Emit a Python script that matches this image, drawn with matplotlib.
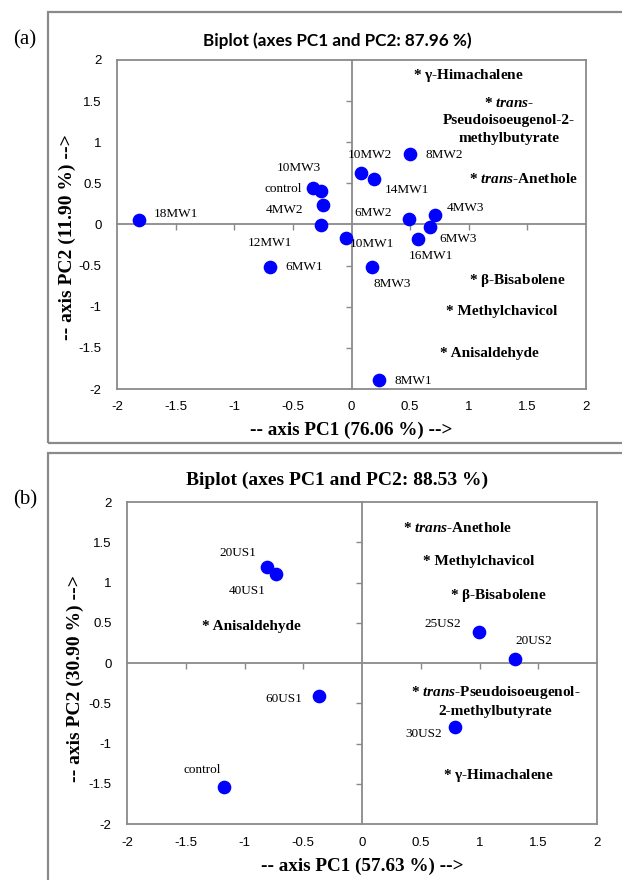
import matplotlib
matplotlib.use("Agg")
import matplotlib.pyplot as plt
from matplotlib.patches import Rectangle

# ---------------- data ----------------
# Panel (a)
a_samples = ["18MW1", "control", "10MW3", "4MW2", "12MW1", "6MW1", "10MW1", "10MW2",
             "14MW1", "8MW2", "6MW2", "4MW3", "6MW3", "16MW1", "8MW3", "8MW1"]
a_pc1 = [-1.815, -0.327, -0.257, -0.243, -0.260, -0.694, -0.045, 0.082,
         0.196, 0.495, 0.489, 0.714, 0.670, 0.569, 0.173, 0.237]
a_pc2 = [0.054, 0.441, 0.405, 0.240, -0.010, -0.514, -0.159, 0.630,
         0.558, 0.852, 0.066, 0.119, -0.030, -0.179, -0.522, -1.887]
a_label_at = [(-1.50, 0.127), (-0.579, 0.429), (-0.452, 0.691), (-0.573, 0.179),
              (-0.697, -0.228), (-0.405, -0.518), (0.176, -0.236), (0.160, 0.848),
              (0.469, 0.425), (0.788, 0.840), (0.186, 0.135), (0.976, 0.195),
              (0.908, -0.175), (0.680, -0.385), (0.344, -0.719), (0.529, -1.899)]
a_vars = [r"* $\mathbf{\gamma}$-Himachalene",
          "* $\\mathbfit{trans}$-\nPseudoisoeugenol-2-\nmethylbutyrate",
          "* $\\mathbfit{trans}$-Anethole",
          r"* $\mathbf{\beta}$-Bisabolene",
          "* Methylchavicol",
          "* Anisaldehyde"]
a_var_at = [(0.993, 1.807), (1.345, 1.267), (1.463, 0.558),
            (1.412, -0.679), (1.285, -1.061), (1.174, -1.565)]
a_title = "Biplot (axes PC1 and PC2: 87.96 %)"
a_xlabel = "-- axis PC1 (76.06 %) -->"
a_ylabel = "-- axis PC2 (11.90 %) -->"

# Panel (b)
b_samples = ["20US1", "40US1", "25US2", "20US2", "60US1", "30US2", "control"]
b_pc1 = [-0.809, -0.734, 0.992, 1.306, -0.369, 0.792, -1.178]
b_pc2 = [1.193, 1.107, 0.387, 0.048, -0.407, -0.796, -1.545]
b_label_at = [(-1.059, 1.367), (-0.978, 0.891), (0.684, 0.482), (1.462, 0.271),
              (-0.667, -0.445), (0.528, -0.887), (-1.364, -1.330)]
b_vars = ["* $\\mathbfit{trans}$-Anethole",
          "* Methylchavicol",
          r"* $\mathbf{\beta}$-Bisabolene",
          "* Anisaldehyde",
          "* $\\mathbfit{trans}$-Pseudoisoeugenol-\n2-methylbutyrate",
          r"* $\mathbf{\gamma}$-Himachalene"]
b_var_at = [(0.809, 1.681), (0.995, 1.255), (1.157, 0.842), (-0.941, 0.449),
            (1.137, -0.47), (1.164, -1.400)]
b_title = "Biplot (axes PC1 and PC2: 88.53 %)"
b_xlabel = "-- axis PC1 (57.63 %) -->"
b_ylabel = "-- axis PC2 (30.90 %) -->"

ticks = [-2, -1.5, -1, -0.5, 0, 0.5, 1, 1.5, 2]
tick_labels = ["-2", "-1.5", "-1", "-0.5", "0", "0.5", "1", "1.5", "2"]

# ---------------- style ----------------
tick_font = "Liberation Sans"
serif = "Liberation Serif"
plt.rcParams["mathtext.fontset"] = "custom"
plt.rcParams["mathtext.rm"] = serif
plt.rcParams["mathtext.it"] = serif + ":italic"
plt.rcParams["mathtext.bf"] = serif + ":bold"
plt.rcParams["mathtext.bfit"] = serif + ":bold:italic"

GRAY = "#8a8a8a"
BLUE = "#0000ff"

fig = plt.figure(figsize=(6.22, 8.80), dpi=100)
W, H = 622, 880


def frac(x0, y0, x1, y1):
    return [x0 / W, 1 - y1 / H, (x1 - x0) / W, (y1 - y0) / H]


# outer frames
for (fx0, fy0, fx1, fy1) in [(48, 12, 640, 443), (48, 453, 640, 900)]:
    fig.patches.append(Rectangle((fx0 / W, 1 - fy1 / H), (fx1 - fx0) / W, (fy1 - fy0) / H,
                                 transform=fig.transFigure, fill=False,
                                 edgecolor=GRAY, linewidth=1.6, zorder=0))


def panel(rect, px, py, names, lab_at, vars_, var_at, title, title_font, title_size,
          title_y, xlabel, ylabel, letter, letter_y, xlabel_y, ylabel_x, ylabel_y):
    ax = fig.add_axes(frac(*rect))
    ax.set_xlim(-2, 2)
    ax.set_ylim(-2, 2)
    for s in ax.spines.values():
        s.set_color(GRAY)
        s.set_linewidth(1.3)
    ax.set_xticks(ticks)
    ax.set_yticks(ticks)
    ax.set_xticklabels(tick_labels)
    ax.set_yticklabels(tick_labels)
    ax.tick_params(length=0, labelsize=9.5)
    ax.tick_params(axis="x", pad=9)
    ax.tick_params(axis="y", pad=11)
    for lab in ax.get_xticklabels() + ax.get_yticklabels():
        lab.set_fontfamily(tick_font)
    # crosshair axes with ticks
    ax2 = fig.add_axes(frac(*rect))
    ax2.set_xlim(-2, 2)
    ax2.set_ylim(-2, 2)
    ax2.patch.set_alpha(0)
    ax2.spines["top"].set_visible(False)
    ax2.spines["right"].set_visible(False)
    ax2.spines["left"].set_position(("data", 0))
    ax2.spines["bottom"].set_position(("data", 0))
    for s in ("left", "bottom"):
        ax2.spines[s].set_color(GRAY)
        ax2.spines[s].set_linewidth(1.3)
    inner = [t for t in ticks if abs(t) not in (0, 2)]
    ax2.set_xticks(inner)
    ax2.set_yticks(inner)
    ax2.tick_params(direction="out", length=4, width=1, color=GRAY,
                    labelbottom=False, labelleft=False)

    ax2.scatter(px, py, s=78, color=BLUE, zorder=5, clip_on=False)
    for n, (lx, ly) in zip(names, lab_at):
        ax2.text(lx, ly, n, ha="center", va="center", family=serif, fontsize=9.5)
    for v, (vx, vy) in zip(vars_, var_at):
        ax2.text(vx, vy, v, ha="center", va="center", family=serif,
                 fontweight="bold", fontsize=11, linespacing=1.45)

    fig.text(337 / W, 1 - title_y / H, title, ha="center", va="center",
             family=title_font, fontweight="bold", fontsize=title_size)
    cx = (rect[0] + rect[2]) / 2 / W
    fig.text(cx, 1 - xlabel_y / H, xlabel, ha="center", va="center",
             family=serif, fontweight="bold", fontsize=13.8)
    fig.text(ylabel_x / W, 1 - ylabel_y / H, ylabel, ha="center", va="center",
             rotation=90, family=serif, fontweight="bold", fontsize=14)
    fig.text(25 / W, 1 - letter_y / H, letter, ha="center", va="center",
             family=serif, fontsize=15)


panel((117, 60, 586, 389), a_pc1, a_pc2, a_samples, a_label_at, a_vars, a_var_at,
      a_title, "Lato", 12.3, 41, a_xlabel, a_ylabel, "(a)", 40, 430, 67, 237)
panel((127, 502, 597, 824), b_pc1, b_pc2, b_samples, b_label_at, b_vars, b_var_at,
      b_title, serif, 14, 480, b_xlabel, b_ylabel, "(b)", 500, 866, 75, 679)

fig.savefig("out.png", dpi=100)
